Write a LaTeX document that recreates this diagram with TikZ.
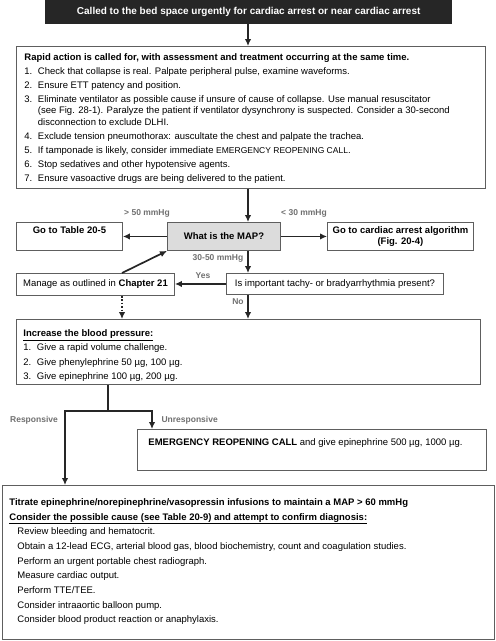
\documentclass[tikz,border=0pt]{standalone}
\usepackage{fontspec}
\setmainfont{Liberation Sans}
\usetikzlibrary{arrows.meta,positioning,calc}

\definecolor{darkbox}{HTML}{262626}
\definecolor{mapfill}{HTML}{DCDCDC}
\definecolor{framegray}{HTML}{5E5E5E}
\definecolor{notegray}{HTML}{707070}
\definecolor{arrowgray}{HTML}{262626}

\tikzstyle{block} = [rectangle, draw=framegray, line width=.9pt, anchor=north west, inner xsep=8pt, inner ysep=6pt, font=\fontsize{9.5}{11.5}\selectfont]
\tikzstyle{small} = [block, inner sep=0pt, align=center]
\tikzstyle{start} = [rectangle, fill=darkbox, text=white, anchor=north west, inner sep=0pt, font=\bfseries\fontsize{10}{12}\selectfont]
\tikzstyle{line} = [draw=arrowgray, -{Latex[length=7pt,width=6.5pt]}, line width=1.7pt, line join=miter]
\tikzstyle{trunk} = [draw=arrowgray, line width=1.7pt]
\tikzstyle{note} = [text=notegray, font=\bfseries\fontsize{8.5}{10}\selectfont]

% box text, top aligned: width, height, text
\newcommand{\boxbody}[3]{\begin{minipage}[t][#2][t]{#1}\raggedright\setlength{\parskip}{2.5pt}#3\end{minipage}}
% numbered line with hanging indent
\newcommand{\itm}[2]{\par\hangindent=13.5pt\hangafter=1\noindent\makebox[13.5pt][l]{#1}#2}
% indented line of the last box
\newcommand{\cause}[1]{\par\hspace*{8pt}#1}

\begin{document}
\begin{tikzpicture}[x=1pt, y=-1pt]
    \useasboundingbox (0,0) rectangle (496,641);

    % columns of the arrows
    \coordinate (spine) at (248,0);
    \coordinate (side) at (122,0);
    \coordinate (fork) at (108,411);
    \coordinate (respond) at (65,411);
    \coordinate (noresp) at (152,411);

    % START
        \node [start, minimum width=407pt, minimum height=24pt] at (45,0)
            (called) {Called to the bed space urgently for cardiac arrest or near cardiac arrest};
    % RAPID ACTION
        \node [block, inner ysep=7pt] at (16,46)
            (rapid) {\boxbody{453pt}{128pt}{%
            \textbf{Rapid action is called for, with assessment and treatment occurring at the same time.}
            \itm{1.}{Check that collapse is real. Palpate peripheral pulse, examine waveforms.}
            \itm{2.}{Ensure ETT patency and position.}
            \itm{3.}{Eliminate ventilator as possible cause if unsure of cause of collapse. Use manual resuscitator\hfill\break
                (see Fig. 28-1). Paralyze the patient if ventilator dysynchrony is suspected. Consider a 30-second\hfill\break
                disconnection to exclude DLHI.}
            \itm{4.}{Exclude tension pneumothorax: auscultate the chest and palpate the trachea.}
            \itm{5.}{If tamponade is likely, consider immediate {\fontsize{8.5}{11}\selectfont EMERGENCY REOPENING CALL}.}
            \itm{6.}{Stop sedatives and other hypotensive agents.}
            \itm{7.}{Ensure vasoactive drugs are being delivered to the patient.}}};

    % MAP
        \node [small, fill=mapfill, font=\bfseries\fontsize{9.5}{11}\selectfont,
               minimum width=113pt, minimum height=28pt] at (167,222)
            (map) {What is the MAP?};
        \node [block, inner xsep=0pt, inner ysep=4pt, font=\bfseries\fontsize{9.5}{12}\selectfont] at (16,222)
            (table) {\boxbody{106pt}{20pt}{\centering Go to Table 20-5}};
        \node [small, font=\bfseries\fontsize{9.5}{11.5}\selectfont,
               minimum width=146pt, minimum height=28pt] at (327,222)
            (algo) {Go to cardiac arrest algorithm\\(Fig. 20-4)};

    % ARRHYTHMIA
        \node [small, minimum width=217pt, minimum height=21pt] at (226,273)
            (arrhythmia) {Is important tachy- or bradyarrhythmia present?};
        \node [small, minimum width=158pt, minimum height=22pt] at (16,273)
            (manage) {Manage as outlined in \textbf{Chapter 21}};

    % BLOOD PRESSURE
        \node [block, inner xsep=7pt, inner ysep=10pt] at (16,319)
            (pressure) {\boxbody{450pt}{45pt}{\setlength{\parskip}{3pt}%
            \textbf{\underline{Increase the blood pressure:}}
            \itm{1.}{Give a rapid volume challenge.}
            \itm{2.}{Give phenylephrine 50 µg, 100 µg.}
            \itm{3.}{Give epinephrine 100 µg, 200 µg.}}};

    % UNRESPONSIVE
        \node [block, inner xsep=11pt, inner ysep=9pt] at (137,429)
            (reopen) {\boxbody{327pt}{23pt}{%
            \textbf{EMERGENCY REOPENING CALL} and give epinephrine 500 µg, 1000 µg.}};

    % RESPONSIVE
        \node [block, inner xsep=7pt, inner ysep=13pt] at (2,485)
            (titrate) {\boxbody{478pt}{128pt}{\setlength{\parskip}{3.2pt}%
            \textbf{Titrate epinephrine/norepinephrine/vasopressin infusions to maintain a MAP > 60 mmHg}
            \par\textbf{\underline{Consider the possible cause (see Table 20-9) and attempt to confirm diagnosis:}}
            \cause{Review bleeding and hematocrit.}
            \cause{Obtain a 12-lead ECG, arterial blood gas, blood biochemistry, count and coagulation studies.}
            \cause{Perform an urgent portable chest radiograph.}
            \cause{Measure cardiac output.}
            \cause{Perform TTE/TEE.}
            \cause{Consider intraaortic balloon pump.}
            \cause{Consider blood product reaction or anaphylaxis.}}};

    % LABELS
        \node [note] at (147,213) (gt50) {> 50 mmHg};
        \node [note] at (304,213) (lt30) {< 30 mmHg};
        \node [note] at (218,258) (mid) {30-50 mmHg};
        \node [note] at (203,276) (yes) {Yes};
        \node [note] at (238,302) (no) {No};
        \node [note] at (34,420) (resp) {Responsive};
        \node [note, anchor=west] at (158,420) (unresp) {Unresponsive};

    % LINES
        \path[line] (called.south -| spine) -- (rapid.north -| spine);
        \path[line] (rapid.south -| spine) -- (map.north -| spine);
        \path[line] (map.west) -- (map.west -| table.east);
        \path[line] (map.east) -- (map.east -| algo.west);
        \path[line] (map.south -| spine) -- (arrhythmia.north -| spine);
        \path[line] (arrhythmia.west) -- (arrhythmia.west -| manage.east);
        \path[line] (manage.north -| side) -- (map.south west);
        \path[line, dash pattern=on 1.7pt off 1.7pt] (manage.south -| side) -- (pressure.north -| side);
        \path[line] (arrhythmia.south -| spine) -- (pressure.north -| spine);
    % LINE pressure -> responsive / unresponsive
        \path[trunk] (pressure.south -| fork) -- (fork);
        \path[line] (fork) -| (titrate.north -| respond);
        \path[line] (fork) -| (reopen.north -| noresp);
\end{tikzpicture}
\end{document}
